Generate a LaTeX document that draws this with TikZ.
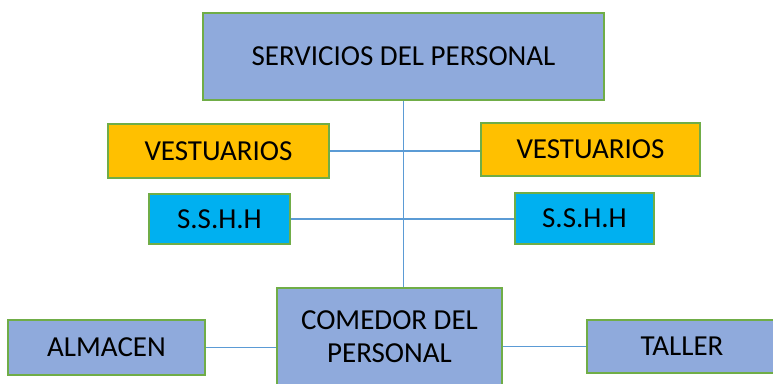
\documentclass[tikz,border=0pt]{standalone}
\usepackage{fontspec}
\setmainfont{Carlito}
\usetikzlibrary{positioning}
\definecolor{boxblue}{HTML}{8FAADC}
\definecolor{boxgreen}{HTML}{70AD47}
\definecolor{boxyellow}{HTML}{FFC000}
\definecolor{boxcyan}{HTML}{00B0F0}
\definecolor{lineblue}{HTML}{5B9BD5}

\begin{document}
\begin{tikzpicture}[x=1pt,y=-1pt,
  box/.style={draw=boxgreen,line width=1.8pt,inner sep=0pt,align=center,
    font=\fontsize{29}{33}\selectfont},
  link/.style={draw=lineblue,line width=1.2pt}]
\useasboundingbox (0,0) rectangle (773,383);
\clip (0,0) rectangle (773,383);

\node[box,fill=boxblue,minimum width=401pt,minimum height=87pt] (serv) at (403.5,56.5) {SERVICIOS DEL PERSONAL};

\node[box,fill=boxyellow,minimum width=221pt,minimum height=54pt] (vestL) at (218.5,151) {VESTUARIOS};
\node[box,fill=boxyellow,minimum width=219pt,minimum height=53pt] (vestR) at (590.5,149.5) {VESTUARIOS};

\node[box,fill=boxcyan,minimum width=141pt,minimum height=50pt] (sshhL) at (219.5,219) {S.S.H.H};
\node[box,fill=boxcyan,minimum width=139pt,minimum height=51pt] (sshhR) at (584.5,218.5) {S.S.H.H};

\node[box,fill=boxblue,minimum width=225pt,minimum height=98pt] (comedor) at (389.5,337) {COMEDOR DEL\\PERSONAL};
\node[box,fill=boxblue,minimum width=197pt,minimum height=55pt] (almacen) at (106.5,347.5) {ALMACEN};
\node[box,fill=boxblue,minimum width=190pt,minimum height=53pt] (taller) at (682,346.5) {TALLER};

\draw[link] (serv.south) -- (serv.south |- comedor.north);
\draw[link] (vestL.east) -- (vestL.east -| vestR.west);
\draw[link] (sshhL.east) -- (sshhL.east -| sshhR.west);
\draw[link] (almacen.east) -- (almacen.east -| comedor.west);
\draw[link] (comedor.east |- taller.west) -- (taller.west);
\end{tikzpicture}
\end{document}
